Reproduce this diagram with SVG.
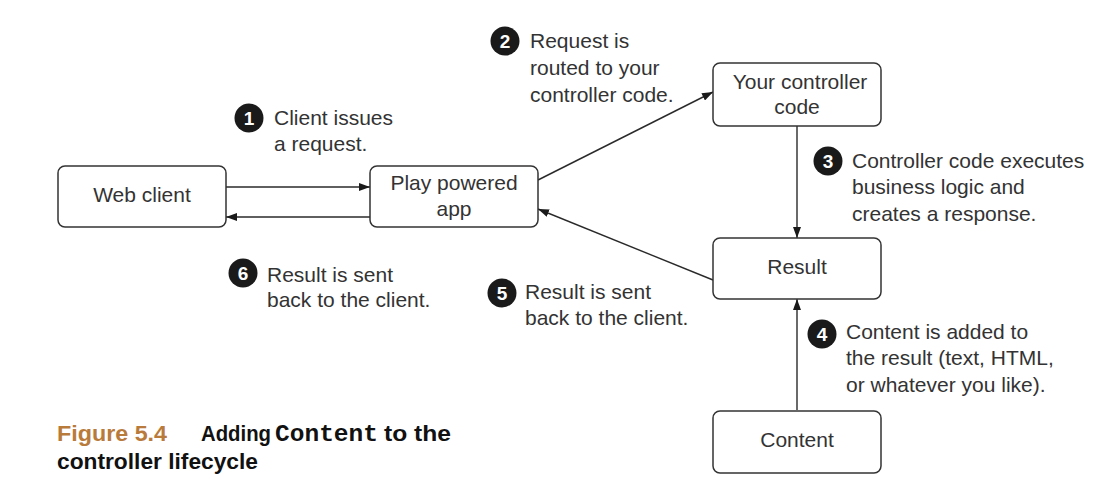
<svg xmlns="http://www.w3.org/2000/svg" width="1120" height="493" viewBox="0 0 1120 493">
  <style>
    .box { fill: #ffffff; stroke: #333333; stroke-width: 1.5; }
    .lbl { font-family: "Liberation Sans", Arial, Helvetica, sans-serif; font-size: 21px; fill: #333333; }
    .ctr { text-anchor: middle; }
    .edge { stroke: #2a2a2a; stroke-width: 1.4; fill: none; marker-end: url(#arr); }
    .num-c { fill: #1a1a1a; }
    .num-t { font-family: "Liberation Sans", Arial, sans-serif; font-size: 19px; font-weight: bold; fill: #ffffff; text-anchor: middle; }
    .cap { font-family: "Liberation Sans", Arial, sans-serif; font-size: 22px; font-weight: bold; fill: #111111; }
    .capfig { fill: #b97b3c; }
    .mono { font-family: "Liberation Mono", "Courier New", monospace; font-size: 23px; font-weight: bold; fill: #111111; }
  </style>
  <defs>
    <marker id="arr" markerUnits="userSpaceOnUse" markerWidth="11" markerHeight="8" refX="11" refY="4" orient="auto">
      <path d="M0,0 L11,4 L0,8 z" fill="#1a1a1a"/>
    </marker>
  </defs>
  <rect width="1120" height="493" fill="#ffffff"/>

  <g id="connectors">
    <line class="edge" x1="226" y1="187" x2="370" y2="187"/>
    <line class="edge" x1="370" y1="217" x2="226" y2="217"/>
    <line class="edge" x1="538" y1="180" x2="713" y2="92"/>
    <line class="edge" x1="797" y1="126" x2="797" y2="238"/>
    <line class="edge" x1="797" y1="410" x2="797" y2="299"/>
    <line class="edge" x1="713" y1="280" x2="538" y2="209"/>
  </g>

  <g id="web-client">
    <rect class="box" x="58" y="166" width="168" height="61" rx="7"/>
    <text class="lbl ctr" x="142" y="202">Web client</text>
  </g>
  <g id="play-app">
    <rect class="box" x="370" y="166" width="168" height="61" rx="7"/>
    <text class="lbl ctr" x="454" y="190">Play powered</text>
    <text class="lbl ctr" x="454" y="216">app</text>
  </g>
  <g id="controller-code">
    <rect class="box" x="713" y="63" width="168" height="63" rx="7"/>
    <text class="lbl ctr" x="800" y="89">Your controller</text>
    <text class="lbl ctr" x="797" y="114">code</text>
  </g>
  <g id="result">
    <rect class="box" x="713" y="238" width="168" height="61" rx="7"/>
    <text class="lbl ctr" x="797" y="274">Result</text>
  </g>
  <g id="content">
    <rect class="box" x="713" y="411" width="168" height="62" rx="7"/>
    <text class="lbl ctr" x="797" y="447">Content</text>
  </g>

  <g id="step1">
    <circle class="num-c" cx="249" cy="118" r="14.5"/>
    <text class="num-t" x="249" y="125">1</text>
    <text class="lbl" x="274" y="125">Client issues</text>
    <text class="lbl" x="274" y="151">a request.</text>
  </g>
  <g id="step2">
    <circle class="num-c" cx="505" cy="41" r="14.5"/>
    <text class="num-t" x="505" y="48">2</text>
    <text class="lbl" x="530" y="48">Request is</text>
    <text class="lbl" x="530" y="75">routed to your</text>
    <text class="lbl" x="530" y="102">controller code.</text>
  </g>
  <g id="step3">
    <circle class="num-c" cx="828" cy="161" r="14.5"/>
    <text class="num-t" x="828" y="168">3</text>
    <text class="lbl" x="852" y="168">Controller code executes</text>
    <text class="lbl" x="852" y="194">business logic and</text>
    <text class="lbl" x="852" y="221">creates a response.</text>
  </g>
  <g id="step4">
    <circle class="num-c" cx="822" cy="334" r="14.5"/>
    <text class="num-t" x="822" y="341">4</text>
    <text class="lbl" x="846" y="339">Content is added to</text>
    <text class="lbl" x="846" y="365">the result (text, HTML,</text>
    <text class="lbl" x="846" y="392">or whatever you like).</text>
  </g>
  <g id="step5">
    <circle class="num-c" cx="502" cy="293" r="14.5"/>
    <text class="num-t" x="502" y="300">5</text>
    <text class="lbl" x="525" y="299">Result is sent</text>
    <text class="lbl" x="525" y="325">back to the client.</text>
  </g>
  <g id="step6">
    <circle class="num-c" cx="243" cy="273" r="14.5"/>
    <text class="num-t" x="243" y="280">6</text>
    <text class="lbl" x="267" y="282">Result is sent</text>
    <text class="lbl" x="267" y="307">back to the client.</text>
  </g>

  <g id="caption">
    <text class="cap capfig" x="57" y="441" textLength="110" lengthAdjust="spacingAndGlyphs">Figure 5.4</text>
    <text class="cap" x="201" y="441" textLength="70" lengthAdjust="spacingAndGlyphs">Adding</text>
    <text class="mono" x="275" y="441" textLength="103" lengthAdjust="spacingAndGlyphs">Content</text>
    <text class="cap" x="384" y="441" textLength="67" lengthAdjust="spacingAndGlyphs">to the</text>
    <text class="cap" x="57" y="469" textLength="201" lengthAdjust="spacingAndGlyphs">controller lifecycle</text>
  </g>
</svg>
